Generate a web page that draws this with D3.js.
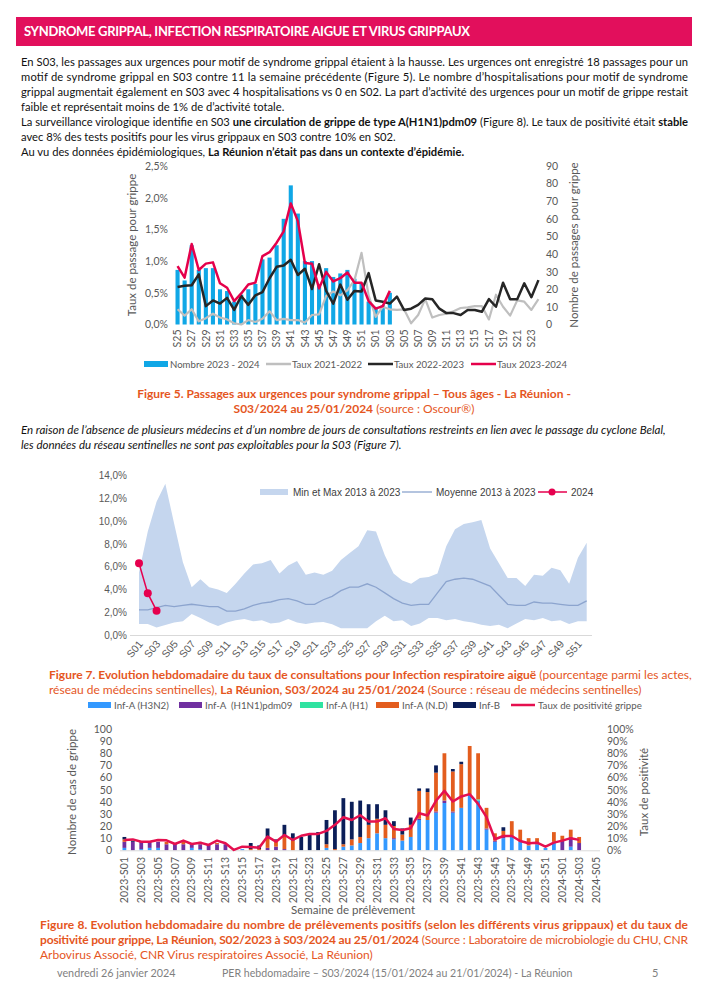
<!DOCTYPE html>
<html>
<head>
<meta charset="utf-8">
<script src="https://cdn.jsdelivr.net/npm/d3@7"></script>
<style>
  body { margin: 0; background: #fff; }
  svg { display: block; }
</style>
</head>
<body>
<div id="page"></div>
<script>
// ---- Figure 5 data (urgences) ----
var weeks1 = d3.range(25, 53).map(function (w) { return "S" + w; })
    .concat(d3.range(1, 25).map(function (w) { return "S" + (w < 10 ? "0" + w : w); }));
var nombre2324 = [31, 25, 45, 31, 32, 32, 20, 19, 13, 17, 20, 23, 37, 38, 45, 60, 79, 63, 36, 36, 22, 32, 27, 29, 31, 26, 23, 13, 10, 11, 18];
var taux2324 = [0.92, 0.74, 1.27, 0.86, 0.96, 0.98, 0.65, 0.58, 0.37, 0.49, 0.63, 0.66, 1.08, 1.14, 1.29, 1.47, 1.91, 1.63, 0.97, 0.96, 0.57, 0.83, 0.68, 0.73, 0.82, 0.66, 0.66, 0.37, 0.25, 0.29, 0.53];
var taux2223 = [0.59, 0.61, 0.62, 0.79, 0.29, 0.38, 0.33, 0.42, 0.23, 0.45, 0.31, 0.46, 0.51, 0.73, 0.91, 0.93, 1.02, 0.78, 0.88, 0.56, 0.95, 0.53, 0.33, 0.63, 0.39,
    0.53, 0.52, 0.81,
    0.38, 0.36, 0.33, 0.44, 0.23, 0.25, 0.31, 0.41, 0.40, 0.25, 0.18, 0.18, 0.15, 0.23, 0.23, 0.20, 0.40, 0.28, 0.66, 0.40, 0.40, 0.65, 0.43, 0.70];
var taux2122 = [0.24, 0.14, 0.24, 0.05, 0.10, 0.17, 0.11, 0.08, 0.02, 0.0, 0.07, 0.04, 0.09, 0.21, 0.07, 0.09, 0.07, 0.07, 0.03, 0.15, 0.16, 0.45, 0.52, 0.46, 0.54,
    0.70, 1.13, 0.46,
    0.12, 0.28, 0.24, 0.23, 0.24, 0.02, 0.15, 0.40, 0.11, 0.15, 0.17, 0.21, 0.26, 0.27, 0.29, 0.29, 0.08, 0.47, 0.28, 0.14, 0.38, 0.36, 0.23, 0.40];

// ---- Figure 7 data (IRA sentinelles) ----
var weeks2 = d3.range(1, 53).map(function (w) { return "S" + (w < 10 ? "0" + w : w); });
var ira_max = [5.5, 9.1, 11.7, 13.3, 9.8, 6.4, 4.2, 4.9, 4.2, 4.0, 3.7, 4.5, 5.4, 6.2, 6.3, 6.6, 5.4, 6.1, 6.5, 5.3, 5.5, 5.3, 5.65, 6.6, 7.2, 7.8, 9.2,
    9.1, 7.0, 5.4, 4.8, 4.5, 5.0, 5.1, 5.4, 7.8, 9.3, 9.75, 9.9, 10.1, 7.6, 6.3, 5.0, 5.0, 4.3, 5.3, 5.2, 5.9, 5.7, 4.5, 6.8, 8.1];
var ira_min = [0.97, 0.97, 0.67, 0.88, 1.1, 1.2, 1.85, 1.5, 1.1, 0.8, 1.1, 1.3, 1.4, 1.2, 1.3, 1.0, 1.1, 1.4, 1.1, 0.97, 1.1, 1.15, 0.95, 0.6, 0.6, 0.6, 0.6,
    1.2, 1.7, 1.2, 1.3, 0.8, 1.0, 1.5, 1.5, 1.3, 1.4, 1.2, 1.1, 0.9, 0.8, 0.9, 0.6, 1.0, 1.4, 1.3, 1.5, 1.2, 1.3, 0.97, 1.2, 1.2];
var ira_moy = [2.2, 2.2, 2.4, 2.6, 2.5, 2.6, 2.7, 2.6, 2.5, 2.5, 2.1, 2.1, 2.3, 2.6, 2.8, 2.9, 3.1, 3.2, 3.0, 2.7, 2.7, 3.1, 3.4, 3.9, 4.2, 4.2, 4.5,
    4.2, 3.7, 3.2, 2.8, 2.6, 2.7, 2.7, 3.7, 4.7, 4.9, 5.0, 4.9, 4.6, 4.3, 3.5, 2.7, 2.6, 2.6, 2.9, 2.8, 2.8, 2.7, 2.6, 2.6, 3.0];
var ira2024 = [6.3, 3.66, 2.14];

// ---- Figure 8 data (prelevements) ----
var weeks3 = d3.range(1, 53).map(function (w) { return "2023-S" + (w < 10 ? "0" + w : w); })
    .concat(d3.range(1, 6).map(function (w) { return "2024-S0" + w; }));
var infH3N2 = [2, 0, 1, 2, 2, 0, 0, 0, 2, 1, 0, 0, 0, 0, 1, 0, 0, 0, 0, 0, 0, 0, 0, 0, 2, 0, 3, 4, 6, 10, 14, 10, 9, 8, 11, 25, 25, 31, 39, 31, 35, 46, 41, 17, 7, 10, 11, 7, 4, 5, 2, 6, 0, 3, 0, 0, 0];
var infH1N1 = [5, 7, 6, 5, 5, 5, 6, 5, 3, 4, 5, 5, 5, 0, 0, 0, 0, 2, 3, 1, 0, 0, 0, 0, 0, 0, 0, 0, 0, 0, 0, 0, 1, 0, 0, 1, 0, 1, 2, 1, 0, 0, 0, 1, 1, 1, 0, 0, 0, 0, 0, 1, 8, 8, 6, 0, 0];
var infH1 = [0, 0, 0, 0, 0, 0, 0, 0, 0, 0, 0, 0, 0, 0, 0, 0, 0, 0, 0, 0, 0, 0, 0, 0, 0, 0, 0, 0, 0, 0, 0, 0, 0, 0, 0, 0, 0, 0, 0, 0, 0, 0, 1, 0, 0, 0, 0, 0, 0, 0, 0, 0, 0, 0, 0, 0, 0];
var infND = [2, 0, 0, 0, 0, 2, 0, 2, 1, 2, 0, 1, 0, 0, 0, 1, 1, 9, 4, 11, 8, 0, 0, 0, 3, 1, 2, 5, 5, 11, 12, 11, 10, 5, 10, 23, 23, 32, 39, 33, 36, 40, 38, 17, 6, 5, 13, 10, 6, 5, 0, 8, 4, 6, 5, 0, 0];
var infB = [2, 1, 0, 0, 0, 0, 0, 0, 0, 0, 0, 0, 0, 0, 0, 5, 3, 7, 2, 9, 6, 11, 13, 15, 20, 32, 38, 31, 30, 17, 12, 12, 4, 5, 6, 2, 3, 6, 0, 2, 2, 0, 0, 0, 0, 3, 0, 0, 0, 0, 0, 0, 0, 0, 0, 0, 0];
var tauxPos = [8.5, 9, 7, 7, 8.5, 8.2, 5.2, 8, 5.2, 6.3, 4.4, 8, 5.8, 0.3, 3, 2.7, 2.2, 11.3, 7.1, 12.6, 8.5, 12, 13.5, 13.5, 16, 21, 27.2, 25, 28.9, 23.7,
    23.7, 26.4, 17.6, 16.8, 18.2, 30.6, 28.7, 40.8, 49, 40.2, 44.4, 46.3, 38.3, 27.3, 9.1, 11.8, 11.8, 7.7, 5.8, 6.3, 3, 6.3, 8, 10, 8.6];

var bodyFont = "Lato, 'Open Sans', sans-serif";
var orange = "#E5561E";

var svg = d3.select("#page").append("svg")
    .attr("width", 707)
    .attr("height", 1000)
    .style("font-family", bodyFont);

svg.append("rect").attr("width", 707).attr("height", 1000).attr("fill", "#fff");

// text line made of [text, bold] parts, optionally stretched to a width
function textLine(x, y, parts, o) {
    o = o || {};
    var t = svg.append("text")
        .attr("x", x).attr("y", y)
        .attr("font-size", o.size || 11.2)
        .attr("fill", o.color || "#111")
        .attr("font-style", o.italic ? "italic" : null)
        .attr("text-anchor", o.anchor || "start");
    if (o.width) t.attr("textLength", o.width).attr("lengthAdjust", "spacing");
    parts.forEach(function (p) {
        var s = t.append("tspan").text(p[0]);
        if (p[1]) s.attr("font-weight", "bold");
    });
    return t;
}

// ---- header + intro ----
svg.append("rect").attr("x", 16).attr("y", 17).attr("width", 676).attr("height", 29).attr("fill", "#E20F5C");
textLine(24, 36, [["SYNDROME GRIPPAL, INFECTION RESPIRATOIRE AIGUE ET VIRUS GRIPPAUX", true]],
    { size: 13, color: "#fff", width: 446 });

textLine(21, 66, [["En S03, les passages aux urgences pour motif de syndrome grippal étaient à la hausse. Les urgences ont enregistré 18 passages pour un"]], { width: 667 });
textLine(21, 81, [["motif de syndrome grippal en S03 contre 11 la semaine précédente (Figure 5). Le nombre d’hospitalisations pour motif de syndrome"]], { width: 667 });
textLine(21, 96, [["grippal augmentait également en S03 avec 4 hospitalisations vs 0 en S02. La part d’activité des urgences pour un motif de grippe restait"]], { width: 667 });
textLine(21, 111, [["faible et représentait moins de 1% de d’activité totale."]]);
textLine(21, 126, [["La surveillance virologique identifie en S03 "], ["une circulation de grippe de type A(H1N1)pdm09", true],
    [" (Figure 8). Le taux de positivité était "], ["stable", true]], { width: 667 });
textLine(21, 141, [["avec 8% des tests positifs pour les virus grippaux en S03 contre 10% en S02."]]);
textLine(21, 156, [["Au vu des données épidémiologiques, "], ["La Réunion n’était pas dans un contexte d’épidémie.", true]]);

// ================= Figure 5 =================
var g1 = svg.append("g").attr("font-size", 10.5).attr("fill", "#595959");
var x1 = d3.scaleBand().domain(weeks1).range([175.5, 540.5]).paddingInner(0.42);
var yL = d3.scaleLinear().domain([0, 0.025]).range([324.5, 166]);
var yR = d3.scaleLinear().domain([0, 90]).range([324.5, 166]);
var cx1 = function (i) { return x1(weeks1[i]) + x1.bandwidth() / 2; };

g1.selectAll(".bar1")
    .data(nombre2324)
    .enter().append("rect")
    .attr("class", "bar1")
    .attr("x", function (d, i) { return x1(weeks1[i]); })
    .attr("width", x1.bandwidth())
    .attr("y", function (d) { return yR(d); })
    .attr("height", function (d) { return yR(0) - yR(d); })
    .attr("fill", "#10A7E6");

var comma = function (d) { return d3.format(".1%")(d).replace(".", ","); };

var ax1 = g1.append("g").attr("transform", "translate(171,0)")
    .call(d3.axisLeft(yL).tickValues(d3.range(0, 0.0251, 0.005)).tickSize(0).tickPadding(3).tickFormat(comma));
var ax1r = g1.append("g").attr("transform", "translate(543,0)")
    .call(d3.axisRight(yR).tickValues(d3.range(0, 91, 10)).tickSize(0).tickPadding(3));
var ax1x = g1.append("g").attr("transform", "translate(0,324.5)")
    .call(d3.axisBottom(x1).tickValues(weeks1.filter(function (d, i) { return i % 2 == 0; })).tickSize(0));
ax1x.selectAll("text")
    .attr("transform", "rotate(-90)")
    .attr("text-anchor", "end")
    .attr("x", -5).attr("y", 0).attr("dy", "0.35em");
[ax1, ax1r, ax1x].forEach(function (a) {
    a.select(".domain").remove();
    a.selectAll("text").attr("fill", "#595959").attr("font-size", 10.5).attr("font-family", bodyFont);
});

function lineOn(values, color, w) {
    var ln = d3.line()
        .defined(function (d) { return d != null; })
        .x(function (d, i) { return cx1(i); })
        .y(function (d) { return yL(d / 100); });
    g1.append("path")
        .datum(values)
        .attr("fill", "none")
        .attr("stroke", color)
        .attr("stroke-width", w)
        .attr("stroke-linejoin", "round")
        .attr("d", ln);
}
lineOn(taux2122, "#BFBFBF", 2.2);
lineOn(taux2223, "#262626", 2.5);
lineOn(taux2324, "#E5004B", 2.5);

g1.append("text").attr("transform", "translate(136,245) rotate(-90)").attr("text-anchor", "middle")
    .attr("font-size", 11.5).text("Taux de passage pour grippe");
g1.append("text").attr("transform", "translate(578,245) rotate(-90)").attr("text-anchor", "middle")
    .attr("font-size", 11.5).text("Nombre de passages pour grippe");

var leg1 = [
    { label: "Nombre 2023 - 2024", x: 144, type: "rect", color: "#10A7E6" },
    { label: "Taux 2021-2022", x: 266, type: "line", color: "#BFBFBF" },
    { label: "Taux 2022-2023", x: 368, type: "line", color: "#262626" },
    { label: "Taux 2023-2024", x: 471, type: "line", color: "#E5004B" }
];
leg1.forEach(function (l) {
    if (l.type == "rect") {
        g1.append("rect").attr("x", l.x).attr("y", 361).attr("width", 24).attr("height", 6).attr("fill", l.color);
    } else {
        g1.append("line").attr("x1", l.x).attr("x2", l.x + 25).attr("y1", 364).attr("y2", 364)
            .attr("stroke", l.color).attr("stroke-width", 2.5);
    }
    g1.append("text").attr("x", l.x + 26).attr("y", 367.5).attr("font-size", 9.6).text(l.label);
});

textLine(354, 398, [["Figure 5. Passages aux urgences pour syndrome grippal – Tous âges - La Réunion -", true]],
    { color: orange, anchor: "middle", size: 12 });
textLine(354, 413, [["S03/2024 au 25/01/2024", true], [" (source : Oscour®)"]],
    { color: orange, anchor: "middle", size: 12 });

textLine(21, 434, [["En raison de l’absence de plusieurs médecins et d’un nombre de jours de consultations restreints en lien avec le passage du cyclone Belal,"]], { italic: true, size: 11.5 });
textLine(21, 449, [["les données du réseau sentinelles ne sont pas exploitables pour la S03 (Figure 7)."]], { italic: true, size: 11.5 });

// ================= Figure 7 =================
var arial = "'Liberation Sans', Arial, sans-serif";
var g2 = svg.append("g").style("font-family", arial);
var x2 = d3.scalePoint().domain(weeks2).range([139, 586.7]);
var y2 = d3.scaleLinear().domain([0, 14]).range([635, 475.7]);

var band = d3.area()
    .x(function (d, i) { return x2(weeks2[i]); })
    .y0(function (d, i) { return y2(ira_min[i]); })
    .y1(function (d) { return y2(d); });
g2.append("path").datum(ira_max).attr("fill", "#C5D6EE").attr("d", band);

g2.append("path").datum(ira_moy)
    .attr("fill", "none").attr("stroke", "#8CA4CE").attr("stroke-width", 1.3)
    .attr("d", d3.line().x(function (d, i) { return x2(weeks2[i]); }).y(function (d) { return y2(d); }));

g2.append("line").attr("x1", 130).attr("x2", 592).attr("y1", 635.5).attr("y2", 635.5)
    .attr("stroke", "#D9D9D9").attr("stroke-width", 1);

g2.append("path").datum(ira2024)
    .attr("fill", "none").attr("stroke", "#E6004E").attr("stroke-width", 1.5)
    .attr("d", d3.line().x(function (d, i) { return x2(weeks2[i]); }).y(function (d) { return y2(d); }));
g2.selectAll(".dot24").data(ira2024).enter().append("circle")
    .attr("cx", function (d, i) { return x2(weeks2[i]); })
    .attr("cy", function (d) { return y2(d); })
    .attr("r", 4).attr("fill", "#E6004E");

var ax2 = g2.append("g").attr("transform", "translate(129,0)")
    .call(d3.axisLeft(y2).tickValues(d3.range(0, 15, 2)).tickSize(0).tickPadding(2)
        .tickFormat(function (d) { return d3.format(".1f")(d).replace(".", ",") + "%"; }));
var ax2x = g2.append("g").attr("transform", "translate(0,637)")
    .call(d3.axisBottom(x2).tickValues(weeks2.filter(function (d, i) { return i % 2 == 0; })).tickSize(0));
ax2x.selectAll("text")
    .attr("transform", "rotate(-50)")
    .attr("text-anchor", "end")
    .attr("x", -3).attr("y", 4).attr("dy", "0.35em");
[ax2, ax2x].forEach(function (a) {
    a.select(".domain").remove();
    a.selectAll("text").attr("fill", "#595959").attr("font-size", 10).attr("font-family", arial);
});
ax2x.selectAll("text").attr("font-size", 10.5);

g2.append("rect").attr("x", 260).attr("y", 489).attr("width", 28).attr("height", 6).attr("fill", "#C5D6EE");
g2.append("text").attr("x", 293).attr("y", 496).attr("font-size", 10).attr("fill", "#404040").text("Min et Max 2013 à 2023");
g2.append("line").attr("x1", 402).attr("x2", 432).attr("y1", 492).attr("y2", 492).attr("stroke", "#8CA4CE").attr("stroke-width", 1.3);
g2.append("text").attr("x", 436).attr("y", 496).attr("font-size", 10).attr("fill", "#404040").text("Moyenne 2013 à 2023");
g2.append("line").attr("x1", 538).attr("x2", 567).attr("y1", 492).attr("y2", 492).attr("stroke", "#E6004E").attr("stroke-width", 1.5);
g2.append("circle").attr("cx", 552).attr("cy", 492).attr("r", 3.5).attr("fill", "#E6004E");
g2.append("text").attr("x", 571).attr("y", 496).attr("font-size", 10).attr("fill", "#404040").text("2024");

textLine(49, 679, [["Figure 7. Evolution hebdomadaire du taux de consultations pour Infection respiratoire aiguë", true], [" (pourcentage parmi les actes,"]],
    { color: orange, size: 12 });
textLine(49, 694, [["réseau de médecins sentinelles), "], ["La Réunion, S03/2024 au 25/01/2024", true], [" (Source : réseau de médecins sentinelles)"]],
    { color: orange, size: 12 });

// ================= Figure 8 =================
var g3 = svg.append("g").attr("fill", "#595959");
var x3 = d3.scaleBand().domain(weeks3).range([122.5, 597.9]).paddingInner(0.55);
var y3 = d3.scaleLinear().domain([0, 100]).range([850.3, 729]);

var keys3 = ["H3N2", "H1N1", "H1", "ND", "B"];
var colors3 = { H3N2: "#3399FF", H1N1: "#7030A0", H1: "#2FE3A0", ND: "#E35D1E", B: "#0B1E58" };
var table3 = weeks3.map(function (w, i) {
    return { week: w, H3N2: infH3N2[i], H1N1: infH1N1[i], H1: infH1[i], ND: infND[i], B: infB[i] };
});
var stacked = d3.stack().keys(keys3)(table3);

g3.selectAll(".layer").data(stacked).enter().append("g")
    .attr("fill", function (d) { return colors3[d.key]; })
    .selectAll("rect").data(function (d) { return d; }).enter().append("rect")
    .attr("x", function (d) { return x3(d.data.week); })
    .attr("width", x3.bandwidth())
    .attr("y", function (d) { return y3(d[1]); })
    .attr("height", function (d) { return y3(d[0]) - y3(d[1]); });

g3.append("line").attr("x1", 120).attr("x2", 600).attr("y1", 850.8).attr("y2", 850.8)
    .attr("stroke", "#D9D9D9").attr("stroke-width", 1);

g3.append("path").datum(tauxPos)
    .attr("fill", "none").attr("stroke", "#E5104F").attr("stroke-width", 2.5).attr("stroke-linejoin", "round")
    .attr("d", d3.line()
        .x(function (d, i) { return x3(weeks3[i]) + x3.bandwidth() / 2; })
        .y(function (d) { return y3(d); }));

var ax3 = g3.append("g").attr("transform", "translate(115,0)")
    .call(d3.axisLeft(y3).tickValues(d3.range(0, 101, 10)).tickSize(0).tickPadding(3));
var ax3r = g3.append("g").attr("transform", "translate(604,0)")
    .call(d3.axisRight(y3).tickValues(d3.range(0, 101, 10)).tickSize(0).tickPadding(3)
        .tickFormat(function (d) { return d + "%"; }));
var ax3x = g3.append("g").attr("transform", "translate(0,851)")
    .call(d3.axisBottom(x3).tickValues(weeks3.filter(function (d, i) { return i % 2 == 0; })).tickSize(0));
ax3x.selectAll("text")
    .attr("transform", "rotate(-90)")
    .attr("text-anchor", "end")
    .attr("x", -6).attr("y", 0).attr("dy", "0.35em");
[ax3, ax3r, ax3x].forEach(function (a) {
    a.select(".domain").remove();
    a.selectAll("text").attr("fill", "#595959").attr("font-size", 10.5).attr("font-family", bodyFont);
});

g3.append("text").attr("transform", "translate(76,792) rotate(-90)").attr("text-anchor", "middle")
    .attr("font-size", 11.5).text("Nombre de cas de grippe");
g3.append("text").attr("transform", "translate(648,792) rotate(-90)").attr("text-anchor", "middle")
    .attr("font-size", 11.5).text("Taux de positivité");
g3.append("text").attr("x", 353).attr("y", 914).attr("text-anchor", "middle")
    .attr("font-size", 11.5).text("Semaine de prélèvement");

var leg3 = [
    { label: "Inf-A (H3N2)", x: 88, key: "H3N2" },
    { label: "Inf-A  (H1N1)pdm09", x: 179, key: "H1N1" },
    { label: "Inf-A (H1)", x: 300, key: "H1" },
    { label: "Inf-A (N.D)", x: 376, key: "ND" },
    { label: "Inf-B", x: 453, key: "B" }
];
leg3.forEach(function (l) {
    g3.append("rect").attr("x", l.x).attr("y", 702).attr("width", 23).attr("height", 6).attr("fill", colors3[l.key]);
    g3.append("text").attr("x", l.x + 26).attr("y", 708.5).attr("font-size", 9.7).attr("xml:space", "preserve").text(l.label);
});
g3.append("line").attr("x1", 511).attr("x2", 535).attr("y1", 705).attr("y2", 705).attr("stroke", "#E5104F").attr("stroke-width", 2.5);
g3.append("text").attr("x", 538).attr("y", 708.5).attr("font-size", 9.7).text("Taux de positivité grippe");

textLine(40, 929, [["Figure 8. Evolution hebdomadaire du nombre de prélèvements positifs (selon les différents virus grippaux) et du taux de", true]],
    { color: orange, width: 648, size: 12 });
textLine(40, 944, [["positivité pour grippe, La Réunion, S02/2023 à S03/2024 au 25/01/2024", true], [" (Source : Laboratoire de microbiologie du CHU, CNR"]],
    { color: orange, width: 648, size: 12 });
textLine(40, 959, [["Arbovirus Associé, CNR Virus respiratoires Associé, La Réunion)"]], { color: orange, size: 12 });

// ---- footer ----
textLine(57, 977, [["vendredi 26 janvier 2024"]], { color: "#7F7F7F", size: 10.8 });
textLine(222, 977, [["PER hebdomadaire – S03/2024 (15/01/2024 au 21/01/2024) - La Réunion"]], { color: "#7F7F7F", size: 10.6 });
textLine(652, 977, [["5"]], { color: "#7F7F7F", size: 11 });
</script>
</body>
</html>
